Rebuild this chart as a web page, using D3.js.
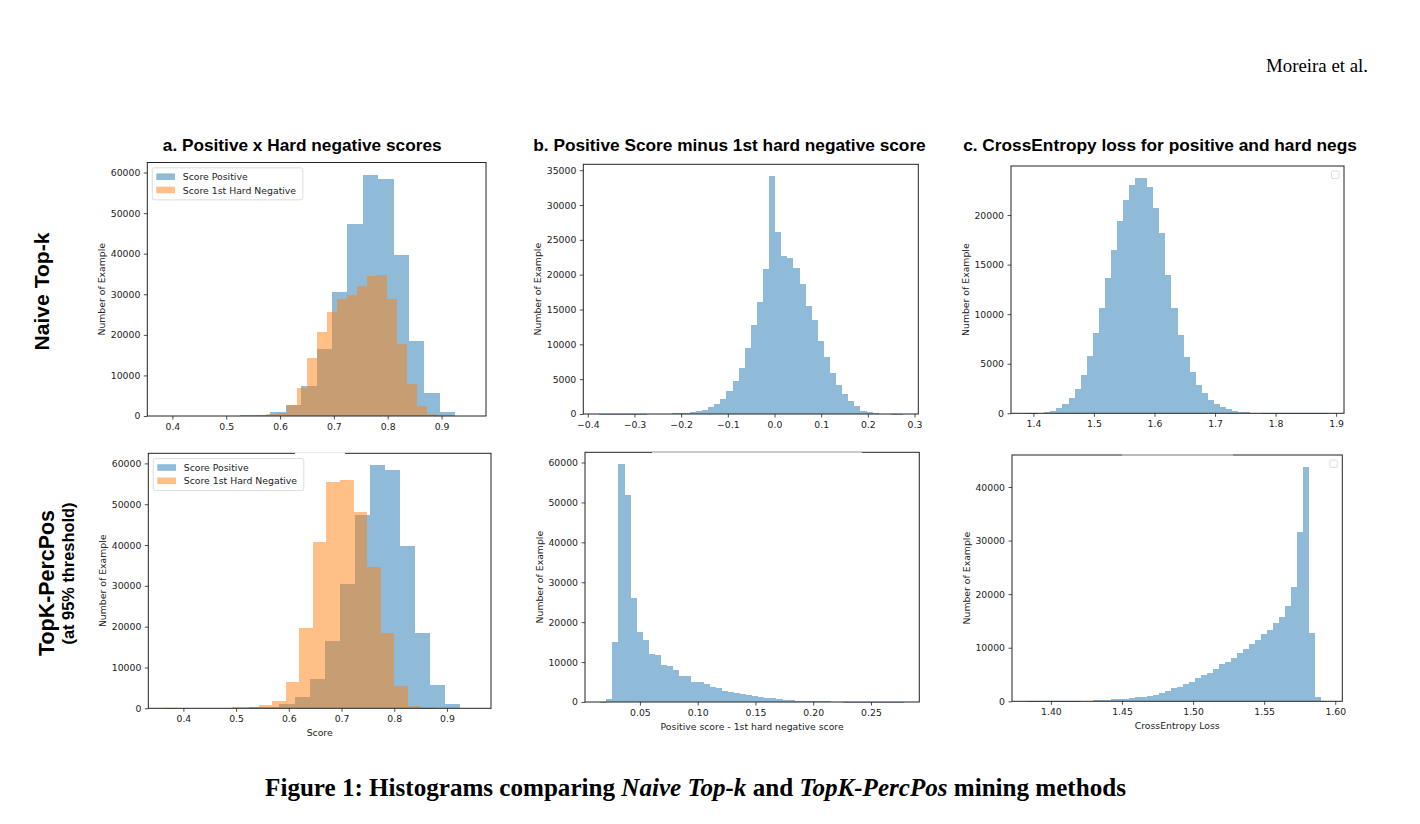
<!DOCTYPE html>
<html><head><meta charset="utf-8">
<script src="https://cdn.jsdelivr.net/npm/d3@7"></script>
<style>body{margin:0;background:#fff}svg{display:block}</style>
</head><body>
<svg id="chart" width="1420" height="824"></svg>
<script>
// ---------------- DATA ----------------
// a. scores (20 bins each)
const posRange = [0.382, 0.954];
const posCounts = [0,0,0,0,100,200,300,1000,2700,7300,16500,30500,47400,59500,58300,39700,18400,5600,1000,100];
const negTopRange = [0.5185, 0.8925];
const negTopCounts = [50,100,200,400,700,2700,7000,14300,20800,25700,28800,29800,32000,34500,34700,28800,17700,7900,2500,400];
const negBotRange = [0.363, 0.877];
const negBotCounts = [5,0,0,0,150,250,400,700,1800,6350,19600,40700,55500,56000,48200,34600,18500,5450,570,50];
// b. positive - 1st hard negative (50 bins)
const diffTopRange = [-0.377, 0.2755];
const diffTopCounts = [3,2,2,3,4,5,8,10,15,25,
  40,60,80,120,190,290,430,570,1000,1390,
  2200,3300,4730,6550,9510,12720,16060,20750,34140,26060,
  22710,22330,20890,18600,15540,13480,10470,8180,5930,4160,
  2870,1860,1100,480,240,140,70,35,10,5];
const diffBotRange = [0.0156, 0.2787];
const diffBotCounts = [5,670,15080,59580,51790,25980,17430,15590,12070,11730,
  9300,9130,7960,6450,6450,5110,5030,4610,3690,3520,
  2850,2600,2350,1930,1760,1510,1260,1090,920,750,
  590,420,350,300,250,200,150,150,120,100,
  20,15,10,8,5,5,3,3,2,2];
// c. CrossEntropy loss (50 bins)
const lossTopRange = [1.388, 1.888];
const lossTopCounts = [30,40,60,100,250,500,900,1500,2500,3850,
  5800,8150,10650,13650,16500,19420,21500,23050,23760,23760,
  22790,20670,18220,13950,10650,7850,5720,4120,2830,2000,
  1320,920,620,400,260,160,100,70,50,40,
  30,25,20,5,4,3,2,2,1,2];
const lossBotRange = [1.3832, 1.5944];
const lossBotCounts = [3,2,2,3,3,5,8,10,20,100,
  130,170,220,280,350,430,500,620,750,870,
  1060,1180,1490,1990,2430,2740,3170,3610,4290,4910,
  5350,6030,6900,7400,8150,8960,9830,10700,11440,12500,
  13310,14680,15800,17850,21400,31540,43790,12690,870,5];

// tick values
const scoreTicks = [0.4,0.5,0.6,0.7,0.8,0.9];
const diffTopTicks = [-0.4,-0.3,-0.2,-0.1,0.0,0.1,0.2,0.3];
const lossTopTicks = [1.4,1.5,1.6,1.7,1.8,1.9];
const diffBotTicks = [0.05,0.10,0.15,0.20,0.25];
const lossBotTicks = [1.40,1.45,1.50,1.55,1.60];
const yTicks60k = [0,10000,20000,30000,40000,50000,60000];
const yTicks35k = [0,5000,10000,15000,20000,25000,30000,35000];
const yTicks20k = [0,5000,10000,15000,20000];
const yTicks40k = [0,10000,20000,30000,40000];

// text
const titles = ["a. Positive x Hard negative scores","b. Positive Score minus 1st hard negative score","c. CrossEntropy loss for positive and hard negs"];
const legendLabels = ["Score Positive","Score 1st Hard Negative"];
const yLabel = "Number of Example";

// ---------------- DRAW ----------------
const BLUE = "#1f77b4", ORANGE = "#ff7f0e";
const svg = d3.select("#chart");
const TICKFONT = "'DejaVu Sans', sans-serif";
const FS = 9.3;

function fitWidth(sel, target){
  const w = sel.node().getComputedTextLength();
  const fs = parseFloat(sel.attr("font-size"));
  sel.attr("font-size", fs*target/w);
}

const panels = [
  {frame:[147.3,162.5,486,416], series:[[posCounts,posRange,BLUE],[negTopCounts,negTopRange,ORANGE]], xt:scoreTicks, xf:".1f", yt:yTicks60k, legend:"full"},
  {frame:[583.3,164.3,918.3,414], series:[[diffTopCounts,diffTopRange,BLUE]], xt:diffTopTicks, xf:".1f", yt:yTicks35k},
  {frame:[1011,166,1344,413.3], series:[[lossTopCounts,lossTopRange,BLUE]], xt:lossTopTicks, xf:".1f", yt:yTicks20k, legend:"empty"},
  {frame:[148.3,453.3,491,708.3], series:[[posCounts,posRange,BLUE],[negBotCounts,negBotRange,ORANGE]], xt:scoreTicks, xf:".1f", yt:yTicks60k, legend:"full", xlabel:"Score", gap:[295,345,"#ffffff"]},
  {frame:[585,452.3,919.3,702], series:[[diffBotCounts,diffBotRange,BLUE]], xt:diffBotTicks, xf:".2f", yt:yTicks60k, xlabel:"Positive score - 1st hard negative score", gap:[652,862,"#c8c8c8"]},
  {frame:[1012,455,1342.3,701.3], series:[[lossBotCounts,lossBotRange,BLUE]], xt:lossBotTicks, xf:".2f", yt:yTicks40k, legend:"empty", xlabel:"CrossEntropy Loss", gap:[1122,1233,"#c8c8c8"]}
];

panels.forEach(p => {
  const [L,T,R,B] = p.frame;
  // matplotlib-like autoscale: 5% x margin over union of bins, y from 0 to max*1.05
  const lo = d3.min(p.series, s => s[1][0]), hi = d3.max(p.series, s => s[1][1]);
  const m = (hi-lo)*0.05;
  const ymax = d3.max(p.series, s => d3.max(s[0]))*1.05;
  const x = d3.scaleLinear().domain([lo-m, hi+m]).range([L,R]);
  const y = d3.scaleLinear().domain([0, ymax]).range([B,T]);
  const g = svg.append("g");

  p.series.forEach(([counts, range, color]) => {
    const n = counts.length, w = (range[1]-range[0])/n;
    const bins = counts.map((c,i)=>({x0:range[0]+i*w, x1:range[0]+(i+1)*w, c})).filter(d=>d.c>0);
    g.append("g").selectAll("rect").data(bins).join("rect")
      .attr("x", d=>x(d.x0)).attr("width", d=>x(d.x1)-x(d.x0))
      .attr("y", d=>y(d.c)).attr("height", d=>Math.max(0.6, y(0)-y(d.c)))
      .attr("fill", color).attr("fill-opacity", 0.5)
      .attr("shape-rendering","crispEdges");
  });

  // axes
  const xa = g.append("g").attr("transform",`translate(0,${B})`)
    .call(d3.axisBottom(x).tickValues(p.xt).tickFormat(d3.format(p.xf)).tickSize(3.5).tickPadding(3.5));
  const ya = g.append("g").attr("transform",`translate(${L},0)`)
    .call(d3.axisLeft(y).tickValues(p.yt).tickFormat(d3.format("d")).tickSize(3.5).tickPadding(3.5));
  [xa,ya].forEach(a=>{
    a.select(".domain").remove();
    a.selectAll("line").attr("stroke","#222").attr("stroke-width",0.8);
    a.selectAll("text").attr("font-family",TICKFONT).attr("font-size",FS).attr("fill","#222");
  });

  // frame
  g.append("rect").attr("x",L).attr("y",T).attr("width",R-L).attr("height",B-T)
    .attr("fill","none").attr("stroke","#222").attr("stroke-width",1);
  if (p.gap){
    g.append("line").attr("x1",p.gap[0]).attr("x2",p.gap[1]).attr("y1",T).attr("y2",T)
      .attr("stroke",p.gap[2]).attr("stroke-width",1.6);
  }

  // y label
  g.append("text").attr("transform",`translate(${L-45.5},${(T+B)/2}) rotate(-90)`)
    .attr("text-anchor","middle").attr("dominant-baseline","central")
    .attr("font-family",TICKFONT).attr("font-size",FS).attr("fill","#222").text(yLabel);
  if (p.xlabel){
    g.append("text").attr("x",(L+R)/2).attr("y",B+24).attr("text-anchor","middle")
      .attr("dominant-baseline","central")
      .attr("font-family",TICKFONT).attr("font-size",FS).attr("fill","#222").text(p.xlabel);
  }

  // legend
  if (p.legend==="full"){
    const lx = L+5, ly = T+5.3;
    const lg = g.append("g");
    lg.append("rect").attr("x",lx).attr("y",ly).attr("width",150.5).attr("height",32)
      .attr("rx",2).attr("fill","#fff").attr("fill-opacity",0.8).attr("stroke","#d3d3d3").attr("stroke-width",0.8);
    legendLabels.forEach((t,i)=>{
      const cy = ly + 9 + i*13.3;
      lg.append("rect").attr("x",lx+4).attr("y",cy-3.4).attr("width",18.7).attr("height",6.6)
        .attr("fill", i===0?BLUE:ORANGE).attr("fill-opacity",0.5);
      lg.append("text").attr("x",lx+30.5).attr("y",cy).attr("dominant-baseline","central")
        .attr("font-family",TICKFONT).attr("font-size",FS).attr("fill","#222").text(t);
    });
  } else if (p.legend==="empty"){
    g.append("rect").attr("x",R-12.5).attr("y",T+5).attr("width",7.5).attr("height",7.5)
      .attr("rx",1.5).attr("fill","#fff").attr("stroke","#d3d3d3").attr("stroke-width",0.8);
  }
});

// column titles
const titleX = [302.2, 729.5, 1160];
const titleW = [279, 393, 394];
titles.forEach((t,i)=>{
  const s = svg.append("text").attr("x",titleX[i]).attr("y",150.5).attr("text-anchor","middle")
    .attr("font-family","'Liberation Sans', Arial, sans-serif").attr("font-weight","bold")
    .attr("font-size",17).attr("fill","#000").text(t);
  fitWidth(s, titleW[i]);
});

// row labels
function rowLabel(txt, cx, cy, len, weight){
  const s = svg.append("text").attr("transform",`translate(${cx},${cy}) rotate(-90)`)
    .attr("text-anchor","middle").attr("font-family","'Liberation Sans', Arial, sans-serif")
    .attr("font-weight",weight).attr("font-size",20).attr("fill","#000").text(txt);
  fitWidth(s, len);
}
rowLabel("Naive Top-k", 48.5, 291.5, 118, "bold");
rowLabel("TopK-PercPos", 53.5, 583, 146, "bold");
rowLabel("(at 95% threshold)", 73.5, 573.5, 142, "bold");

// header
const hdr = svg.append("text").attr("x",1368).attr("y",71.5).attr("text-anchor","end")
  .attr("font-family","'Liberation Serif', 'DejaVu Serif', serif").attr("font-size",18)
  .attr("fill","#000").text("Moreira et al.");
fitWidth(hdr, 102);

// caption
const cap = svg.append("text").attr("x",695.5).attr("y",796).attr("text-anchor","middle")
  .attr("font-family","'Liberation Serif', 'DejaVu Serif', serif").attr("font-weight","bold")
  .attr("font-size",22).attr("fill","#000");
[["Figure 1: Histograms comparing ",false],["Naive Top-k",true],[" and ",false],["TopK-PercPos",true],[" mining methods",false]]
  .forEach(([t,it])=>cap.append("tspan").attr("font-style",it?"italic":"normal").text(t));
fitWidth(cap, 861);
</script>
</body></html>
